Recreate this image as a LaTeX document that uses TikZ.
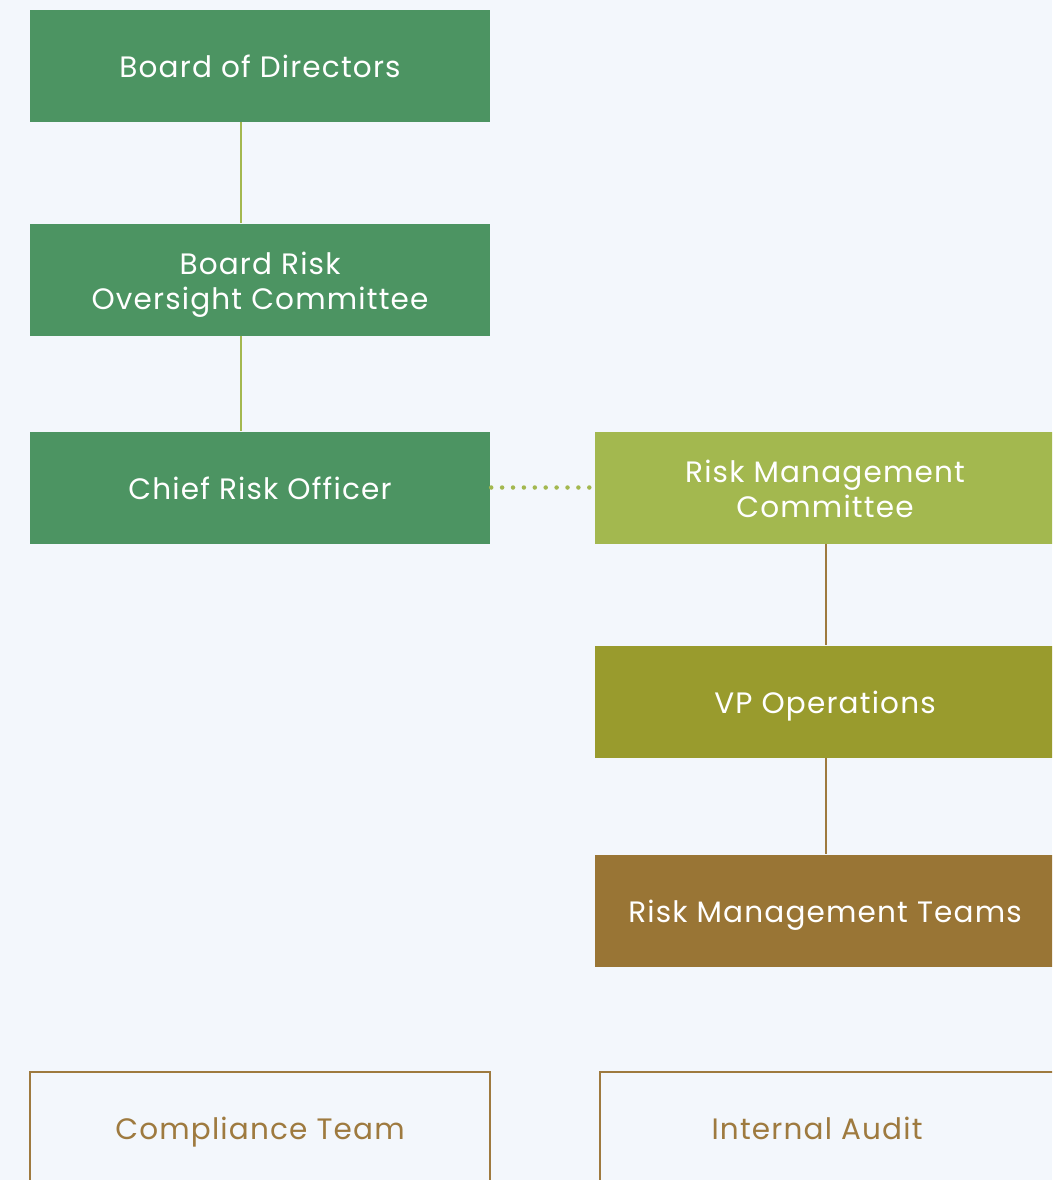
\documentclass[tikz,border=0pt]{standalone}
\usepackage{fontspec}
\setmainfont{Poppins}[LetterSpace=4]
\definecolor{pagebg}{HTML}{F3F7FC}
\definecolor{boardgreen}{HTML}{4C9462}
\definecolor{mgmtgreen}{HTML}{A3B84F}
\definecolor{opsolive}{HTML}{999B2D}
\definecolor{teambrown}{HTML}{997535}
\definecolor{rulebrown}{HTML}{9E7A3F}
\tikzset{
  labelfont/.style={font=\fontsize{29.5}{35}\selectfont},
  oneline/.style={text height=26.6pt, text depth=3pt},
  twoline/.style={text height=62.6pt, text depth=3pt},
  orgbox/.style={rectangle, minimum width=460pt, minimum height=112pt, inner sep=0pt,
    text=white, align=center, labelfont, oneline},
  orgboxtwo/.style={orgbox, twoline},
  outlinebox/.style={rectangle, draw=rulebrown, line width=2pt, minimum width=460pt,
    minimum height=112pt, inner sep=0pt},
  outlinetext/.style={text=rulebrown, inner sep=0pt, labelfont, oneline},
  greenlink/.style={draw=mgmtgreen, line width=2pt},
  brownlink/.style={draw=rulebrown, line width=2pt},
  dotlink/.style={draw=mgmtgreen, line width=4.5pt, line cap=round, dash pattern=on 0pt off 10.9pt}
}
\begin{document}
\begin{tikzpicture}[x=1pt,y=-1pt]
\useasboundingbox (0,0) rectangle (1052,1180);
\clip (0,0) rectangle (1052,1180);
\fill[pagebg] (0,0) rectangle (1052,1180);

% board-level chain
\node[orgbox, fill=boardgreen] (bod) at (260,66) {Board of Directors};
\node[orgboxtwo, fill=boardgreen] (broc) at (260,279.5) {Board Risk\\Oversight Committee};
\node[orgbox, fill=boardgreen] (cro) at (260,487.5) {Chief Risk Officer};

% management chain
\node[orgboxtwo, fill=mgmtgreen] (rmc) at (825,487.5) {Risk Management\\Committee};
\node[orgbox, fill=opsolive] (vpo) at (825,701.5) {VP Operations};
\node[orgbox, fill=teambrown] (rmt) at (825,910.5) {Risk Management Teams};

% assurance functions
\node[outlinebox] (comp) at (260,1128) {};
\node[outlinetext] (comptext) at (260,1128) {Compliance Team};
\node[outlinebox] (audit) at (830,1128) {};
\node[outlinetext] (audittext) at (817,1127.5) {Internal Audit};

% reporting lines
\draw[greenlink] ([xshift=-19pt]bod.south) -- ([xshift=-19pt]broc.north);
\draw[greenlink] ([xshift=-19pt]broc.south) -- ([xshift=-19pt]cro.north);
\draw[brownlink] ([xshift=1pt]rmc.south) -- ([xshift=1pt]vpo.north);
\draw[brownlink] ([xshift=1pt]vpo.south) -- ([xshift=1pt]rmt.north);
\draw[dotlink] ([xshift=1pt]cro.east) -- ([xshift=1pt]rmc.west);
\end{tikzpicture}
\end{document}
